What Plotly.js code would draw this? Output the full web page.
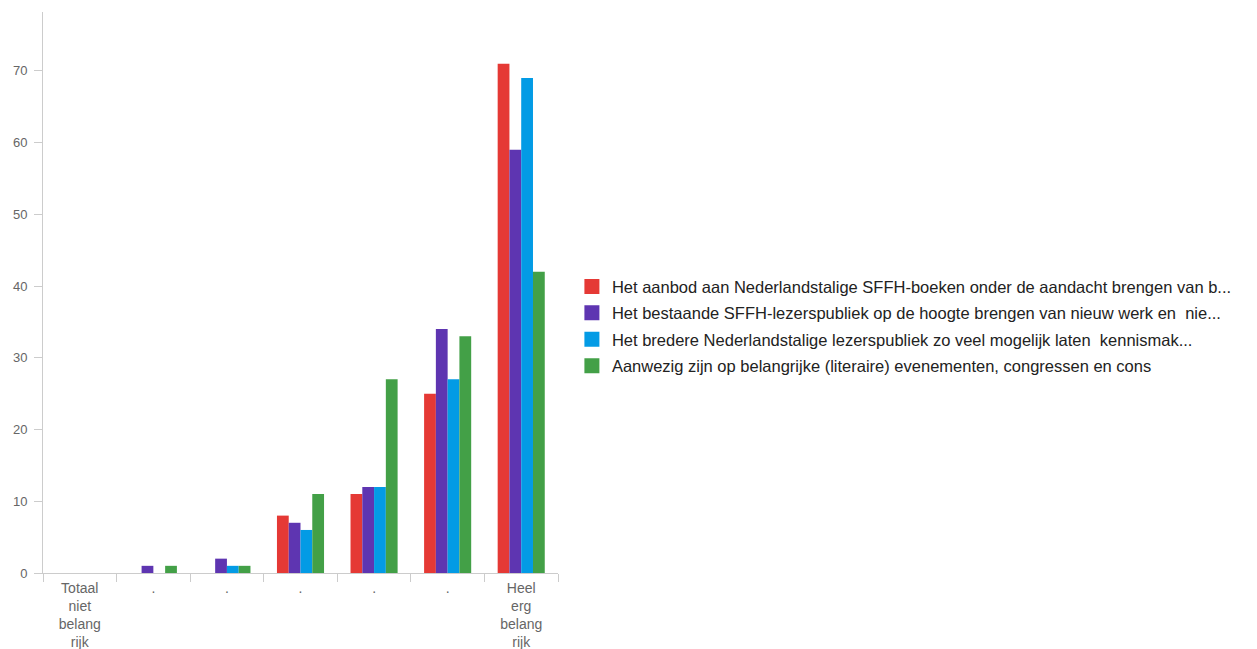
<!DOCTYPE html>
<html>
<head>
<meta charset="utf-8">
<script src="https://cdn.plot.ly/plotly-3.0.1.min.js"></script>
<style>
html,body{margin:0;padding:0;background:#fff;}
#chart{width:1257px;height:649px;}
</style>
</head>
<body>
<div id="chart"></div>
<script>
const categories = ["Totaal<br>niet<br>belang<br>rijk", ".", ".", ".", ".", ".", "Heel<br>erg<br>belang<br>rijk"];
const catKeys = ["c1", "c2", "c3", "c4", "c5", "c6", "c7"];
const seriesNames = [
  "Het aanbod aan Nederlandstalige SFFH-boeken onder de aandacht brengen van b...",
  "Het bestaande SFFH-lezerspubliek op de hoogte brengen van nieuw werk en  nie...",
  "Het bredere Nederlandstalige lezerspubliek zo veel mogelijk laten  kennismak...",
  "Aanwezig zijn op belangrijke (literaire) evenementen, congressen en cons"
];
const aanbod = [0, 0, 0, 8, 11, 25, 71];
const bestaande = [0, 1, 2, 7, 12, 34, 59];
const bredere = [0, 0, 1, 6, 12, 27, 69];
const aanwezig = [0, 1, 1, 11, 27, 33, 42];
const colors = ["#E53935", "#5E35B1", "#039BE5", "#43A047"];
const allSeries = [aanbod, bestaande, bredere, aanwezig];

const traces = allSeries.map((vals, i) => ({
  type: "bar",
  x: catKeys,
  y: vals,
  name: seriesNames[i],
  legendgroup: "g" + i,
  marker: {color: colors[i]},
  hoverinfo: "y+name"
}));

const layout = {
  width: 1257, height: 649,
  margin: {l: 43, r: 699, t: 12, b: 76},
  paper_bgcolor: "#fff", plot_bgcolor: "#fff",
  font: {family: "Liberation Sans, Arial, sans-serif", color: "#666"},
  barmode: "group",
  bargap: 0.36,
  bargroupgap: 0,
  showlegend: true,
  legend: {
    x: 1.027, xanchor: "left", y: 0.44, yanchor: "middle",
    font: {size: 16.5, color: "#222"},
    traceorder: "grouped",
    tracegroupgap: 2, itemwidth: 30
  },
  xaxis: {
    type: "category",
    tickvals: catKeys, ticktext: categories,
    showline: true, linecolor: "#ccc", linewidth: 1,
    ticks: "outside", tickson: "boundaries", ticklen: 8, tickcolor: "#ccc",
    ticklabelstandoff: 2,
    tickfont: {size: 14, color: "#666"},
    showgrid: false, zeroline: false, fixedrange: true
  },
  yaxis: {
    range: [0, 78.2],
    tickvals: [0, 10, 20, 30, 40, 50, 60, 70],
    showline: true, linecolor: "#ccc", linewidth: 1,
    ticks: "outside", ticklen: 8, tickcolor: "#ccc",
    ticklabelstandoff: 4,
    tickfont: {size: 13, color: "#666"},
    showgrid: false, zeroline: false, fixedrange: true
  }
};

Plotly.newPlot("chart", traces, layout, {displayModeBar: false}).then(() => {
  document.querySelectorAll("#chart .legendpoints path").forEach(p => {
    p.setAttribute("d", "M7.5,7.5H-7.5V-7.5H7.5Z");
    p.style.strokeWidth = "0";
  });
});
</script>
</body>
</html>
